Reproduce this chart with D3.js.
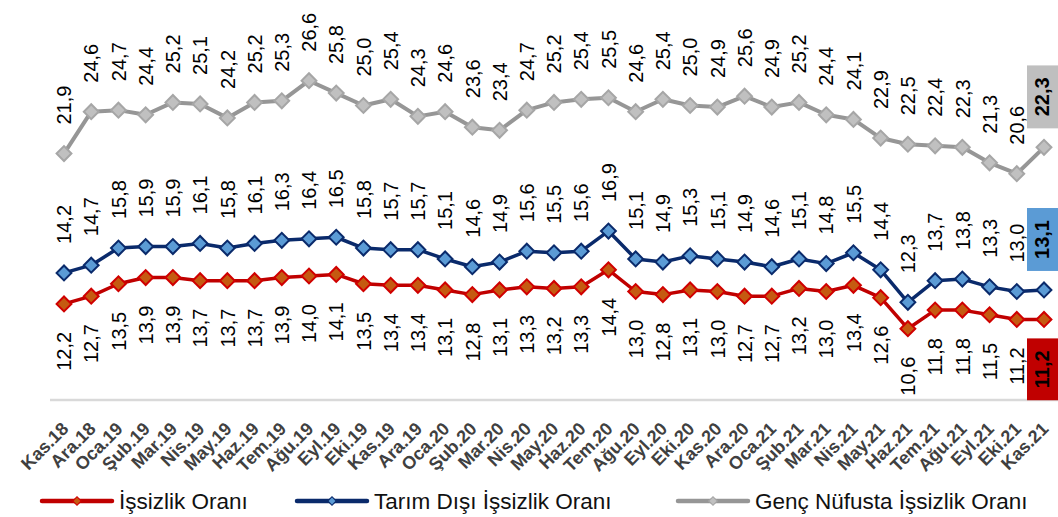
<!DOCTYPE html>
<html>
<head>
<meta charset="utf-8">
<script src="https://cdn.jsdelivr.net/npm/d3@7"></script>
<style>
  body { margin: 0; background: #fff; }
  svg { display: block; font-family: "Liberation Sans", Arial, sans-serif; }
</style>
</head>
<body>
<svg id="chart" width="1058" height="517"></svg>
<script>
const months = ['Kas.18','Ara.18','Oca.19','Şub.19','Mar.19','Nis.19','May.19','Haz.19','Tem.19','Ağu.19','Eyl.19','Eki.19',
  'Kas.19','Ara.19','Oca.20','Şub.20','Mar.20','Nis.20','May.20','Haz.20','Tem.20','Ağu.20','Eyl.20','Eki.20',
  'Kas.20','Ara.20','Oca.21','Şub.21','Mar.21','Nis.21','May.21','Haz.21','Tem.21','Ağu.21','Eyl.21','Eki.21','Kas.21'];

const issizlik = [12.2,12.7,13.5,13.9,13.9,13.7,13.7,13.7,13.9,14.0,14.1,13.5,13.4,13.4,13.1,12.8,13.1,13.3,13.2,13.3,
  14.4,13.0,12.8,13.1,13.0,12.7,12.7,13.2,13.0,13.4,12.6,10.6,11.8,11.8,11.5,11.2,11.2];
const tarimDisi = [14.2,14.7,15.8,15.9,15.9,16.1,15.8,16.1,16.3,16.4,16.5,15.8,15.7,15.7,15.1,14.6,14.9,15.6,15.5,15.6,
  16.9,15.1,14.9,15.3,15.1,14.9,14.6,15.1,14.8,15.5,14.4,12.3,13.7,13.8,13.3,13.0,13.1];
const genc = [21.9,24.6,24.7,24.4,25.2,25.1,24.2,25.2,25.3,26.6,25.8,25.0,25.4,24.3,24.6,23.6,23.4,24.7,25.2,25.4,
  25.5,24.6,25.4,25.0,24.9,25.6,24.9,25.2,24.4,24.1,22.9,22.5,22.4,22.3,21.3,20.6,22.3];

const seriesNames = ['İşsizlik Oranı', 'Tarım Dışı İşsizlik Oranı', 'Genç Nüfusta İşsizlik Oranı'];

const series = [
  {name: seriesNames[2], values: genc, line: '#969696', fill: '#c0c0c0', stroke: '#a6a6a6', lw: 4, pos: 'above', box: '#bfbfbf'},
  {name: seriesNames[1], values: tarimDisi, line: '#0a2a6b', fill: '#5b9bd5', stroke: '#0a2a6b', lw: 3.5, pos: 'above', box: '#5b9bd5'},
  {name: seriesNames[0], values: issizlik, line: '#c00000', fill: '#c55a11', stroke: '#d00000', lw: 3.5, pos: 'below', box: '#c00000'}
];

const svg = d3.select('#chart');
const fmt = v => v.toFixed(1).replace('.', ',');

const x = d3.scalePoint().domain(months).range([64, 1044]);
const y = d3.scaleLinear().domain([6, 28]).range([400, 59]);

// baseline
svg.append('line')
  .attr('x1', 50).attr('x2', 1058)
  .attr('y1', y(6)).attr('y2', y(6))
  .attr('stroke', '#d9d9d9').attr('stroke-width', 2.5);

// x axis labels
const xAxis = svg.append('g')
  .attr('transform', `translate(0,${y(6)})`)
  .call(d3.axisBottom(x).tickSize(0));
xAxis.select('.domain').remove();
xAxis.selectAll('text')
  .attr('transform', 'translate(5,30) rotate(-45)')
  .attr('x', 0).attr('y', 0).attr('dy', 0)
  .style('text-anchor', 'end')
  .style('font-size', '18px')
  .style('font-weight', 'bold')
  .style('font-family', '"Liberation Sans", Arial, sans-serif')
  .attr('fill', '#404040');

const diamond = d3.symbol().type(d3.symbolSquare).size(110);

series.forEach(s => {
  const pts = s.values.map((v, i) => ({m: months[i], v: v, i: i}));
  const g = svg.append('g');

  g.append('path')
    .datum(pts)
    .attr('fill', 'none')
    .attr('stroke', s.line)
    .attr('stroke-width', s.lw)
    .attr('stroke-linejoin', 'round')
    .attr('d', d3.line().x(d => x(d.m)).y(d => y(d.v)));

  g.selectAll('path.mk')
    .data(pts)
    .join('path')
    .attr('class', 'mk')
    .attr('d', diamond)
    .attr('transform', d => `translate(${x(d.m)},${y(d.v)}) rotate(45)`)
    .attr('fill', s.fill)
    .attr('stroke', s.stroke)
    .attr('stroke-width', 2);

  const last = pts.length - 1;
  const lbl = g.selectAll('text.lbl')
    .data(pts)
    .join('text')
    .attr('class', 'lbl')
    .attr('transform', d => {
      const off = s.pos === 'above' ? -29 : 28;
      return `translate(${x(d.m)},${y(d.v) + off}) rotate(-90)`;
    })
    .attr('dy', '0.36em')
    .style('text-anchor', s.pos === 'above' ? 'start' : 'end')
    .style('font-size', '20px')
    .style('font-weight', d => d.i === last ? 'bold' : 'normal')
    .attr('fill', '#000')
    .text(d => fmt(d.v));

  // highlighted box for the last value
  const lp = pts[last];
  const tw = lbl.filter(d => d.i === last).node().getComputedTextLength();
  const bh = tw + 24;
  const bx = x(lp.m) - 17;
  const by = s.pos === 'above' ? y(lp.v) - 19 - bh : y(lp.v) + 19;
  g.insert('rect', 'text.lbl')
    .attr('x', bx).attr('y', by)
    .attr('width', 34).attr('height', bh)
    .attr('fill', s.box);
  lbl.filter(d => d.i === last)
    .attr('transform', `translate(${x(lp.m) - 2},${by + bh / 2}) rotate(-90)`)
    .style('text-anchor', 'middle');
});

// legend
const legend = [
  {name: seriesNames[0], s: series[2], x0: 42},
  {name: seriesNames[1], s: series[1], x0: 297},
  {name: seriesNames[2], s: series[0], x0: 678}
];
const lg = svg.selectAll('g.leg')
  .data(legend)
  .join('g')
  .attr('class', 'leg')
  .attr('transform', d => `translate(${d.x0},501)`);
lg.append('line')
  .attr('x1', 0).attr('x2', 70)
  .attr('stroke', d => d.s.line)
  .attr('stroke-width', 4.5)
  .attr('stroke-linecap', 'round');
lg.append('path')
  .attr('d', d3.symbol().type(d3.symbolSquare).size(36))
  .attr('transform', 'translate(35,0) rotate(45)')
  .attr('fill', d => d.s.fill)
  .attr('stroke', d => d.s.stroke)
  .attr('stroke-width', 1.2);
lg.append('text')
  .attr('x', 77)
  .attr('y', 8)
  .style('font-size', '22.5px')
  .attr('fill', '#111')
  .text(d => d.name);
</script>
</body>
</html>
